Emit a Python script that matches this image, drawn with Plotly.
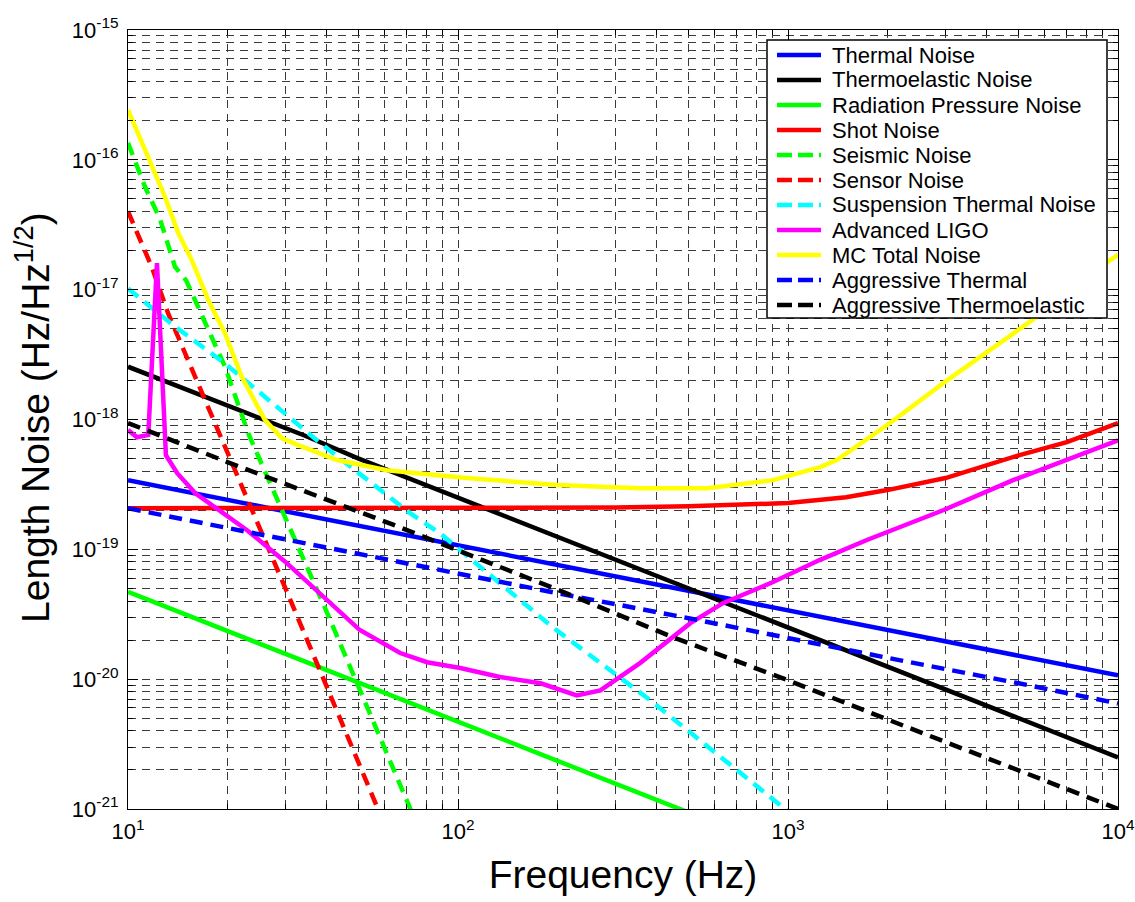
import plotly.graph_objects as go

# ---------------- data ----------------
thermal_f = [10, 20, 50, 100, 200, 500, 1000, 2000, 5000, 10000]
thermal_v = [3.4e-19, 2.4e-19, 1.52e-19, 1.07e-19, 7.6e-20, 4.8e-20, 3.4e-20, 2.4e-20, 1.52e-20, 1.07e-20]

thermoel_f = [10, 20, 34.4, 50, 100, 200, 500, 1000, 2000, 5000, 10000]
thermoel_v = [2.55e-18, 1.27e-18, 7.5e-19, 5.0e-19, 2.5e-19, 1.25e-19, 5.0e-20, 2.5e-20, 1.25e-20, 5.0e-21, 2.5e-21]

radp_f = [10, 20, 50, 100, 200, 470, 1000]
radp_v = [4.7e-20, 2.35e-20, 9.4e-21, 4.7e-21, 2.35e-21, 1.0e-21, 4.7e-22]

shot_f = [10, 100, 200, 300, 500, 700, 1000, 1500, 2000, 3000, 5000, 7000, 10000]
shot_v = [2.07e-19, 2.07e-19, 2.07e-19, 2.1e-19, 2.15e-19, 2.2e-19, 2.27e-19, 2.52e-19, 2.86e-19, 3.54e-19, 5.3e-19, 6.7e-19, 9.4e-19]

seis_f = [10, 11.26, 12.5, 13.88, 15, 17.51, 19.68, 23.15, 30, 40, 50, 60, 72, 80]
seis_v = [1.35e-16, 6.2e-17, 3.5e-17, 1.5e-17, 1.18e-17, 4.9e-18, 2.55e-18, 7.8e-19, 1.75e-19, 3.3e-20, 8.7e-21, 2.9e-21, 1.0e-21, 5.2e-22]

sensor_f = [10, 11.8, 13.25, 16.73, 19.23, 25, 30, 38.2, 45, 50, 57.2, 65]
sensor_v = [4.0e-17, 1.5e-17, 6.5e-18, 1.62e-18, 7.4e-19, 1.52e-19, 5.0e-20, 1.16e-20, 4.3e-21, 2.26e-21, 1.0e-21, 4.6e-22]

susp_f = [10, 13.88, 19.68, 32.8, 38.2, 71.6, 88.2, 194, 382, 980, 1100]
susp_v = [1.02e-17, 5.2e-18, 2.7e-18, 9.3e-19, 6.6e-19, 1.9e-19, 1.33e-19, 2.5e-20, 6.9e-21, 1.0e-21, 8.0e-22]

aligo_f = [10, 10.65, 11.52, 12.24, 13.03, 14.1, 16, 19, 22.9, 30, 40.1, 50.4, 66.8, 80.6, 101.6, 134, 178, 229, 270,
           356, 506, 635, 901, 1251, 1734, 2951, 4808, 10000]
aligo_v = [8.3e-19, 7.3e-19, 7.6e-19, 1.6e-17, 5.3e-19, 3.86e-19, 2.7e-19, 2.0e-19, 1.41e-19, 8.0e-20, 4.07e-20,
           2.39e-20, 1.59e-20, 1.35e-20, 1.22e-20, 1.04e-20, 9.3e-21, 7.5e-21, 8.2e-21, 1.33e-20, 2.7e-20, 3.85e-20,
           5.6e-20, 8.3e-20, 1.18e-19, 2.0e-19, 3.41e-19, 6.9e-19]

mc_f = [10, 10.74, 11.52, 12.94, 14.21, 15.6, 17.51, 19.68, 22.11, 26.02, 29.23, 32.5, 43.0, 60.9, 106, 200, 356, 570,
        901, 1251, 1406, 2037, 3033, 4808, 5522, 7000, 9465, 10000]
mc_v = [2.42e-16, 1.6e-16, 1.06e-16, 5.2e-17, 2.72e-17, 1.69e-17, 8.3e-18, 4.6e-18, 2.13e-18, 9.9e-19, 7.2e-19,
        6.4e-19, 4.87e-19, 4.07e-19, 3.55e-19, 3.13e-19, 2.96e-19, 2.96e-19, 3.41e-19, 4.3e-19, 4.87e-19, 9.4e-19,
        2.0e-18, 4.6e-18, 5.8e-18, 9.0e-18, 1.69e-17, 1.85e-17]

aggth_f = [10, 20, 50, 100, 200, 500, 1000, 2000, 5000, 10000]
aggth_v = [2.07e-19, 1.46e-19, 9.3e-20, 6.5e-20, 4.6e-20, 2.95e-20, 2.07e-20, 1.46e-20, 9.3e-21, 6.5e-21]

aggte_f = [10, 20, 50, 63.6, 100, 200, 449, 1000, 2000, 5000, 10000]
aggte_v = [9.4e-19, 4.7e-19, 1.95e-19, 1.55e-19, 9.8e-20, 4.9e-20, 2.1e-20, 9.8e-21, 4.9e-21, 2.0e-21, 1.0e-21]

x_tick_vals = [10, 100, 1000, 10000]
x_tick_text = ["10<sup>1</sup>", "10<sup>2</sup>", "10<sup>3</sup>", "10<sup>4</sup>"]
y_tick_vals = [1e-21, 1e-20, 1e-19, 1e-18, 1e-17, 1e-16, 1e-15]
y_tick_text = ["10<sup>-21</sup>", "10<sup>-20</sup>", "10<sup>-19</sup>", "10<sup>-18</sup>",
               "10<sup>-17</sup>", "10<sup>-16</sup>", "10<sup>-15</sup>"]

# ---------------- figure ----------------
DASH = "13px,8px"
LW = 4.5
series = [
    ("Thermal Noise", thermal_f, thermal_v, "#0000FF", "solid"),
    ("Thermoelastic Noise", thermoel_f, thermoel_v, "#000000", "solid"),
    ("Radiation Pressure Noise", radp_f, radp_v, "#00FF00", "solid"),
    ("Shot Noise", shot_f, shot_v, "#FF0000", "solid"),
    ("Seismic Noise", seis_f, seis_v, "#00FF00", DASH),
    ("Sensor Noise", sensor_f, sensor_v, "#FF0000", DASH),
    ("Suspension Thermal Noise", susp_f, susp_v, "#00FFFF", DASH),
    ("Advanced LIGO", aligo_f, aligo_v, "#FF00FF", "solid"),
    ("MC Total Noise", mc_f, mc_v, "#FFFF00", "solid"),
    ("Aggressive Thermal", aggth_f, aggth_v, "#0000FF", DASH),
    ("Aggressive Thermoelastic", aggte_f, aggte_v, "#000000", DASH),
]

fig = go.Figure()
for name, fx, fy, col, dash in series:
    fig.add_trace(go.Scatter(x=fx, y=fy, mode="lines", name=name, showlegend=False,
                             line=dict(color=col, width=LW, dash=dash)))

def minor_vals(lo, hi):
    out = []
    for d in range(lo, hi):
        for k in range(2, 10):
            out.append(k * 10.0 ** d)
    return out

GRID = dict(showgrid=True, gridcolor="#3a3a3a", gridwidth=1, griddash="8px,6px")
FONT = "Arial, Liberation Sans, sans-serif"

fig.update_xaxes(type="log", range=[1, 4], tickmode="array", tickvals=x_tick_vals, ticktext=x_tick_text,
                 ticks="inside", ticklen=10, tickcolor="black", showline=True, linecolor="black", linewidth=1,
                 mirror="allticks", tickfont=dict(size=22, family=FONT, color="black"),
                 ticklabeloverflow="allow", automargin=False, ticklabelstandoff=3,
                 title=dict(text="Frequency (Hz)", font=dict(size=39, family=FONT, color="black"), standoff=17),
                 minor=dict(tickmode="array", tickvals=minor_vals(1, 4), ticks="inside", ticklen=5,
                            tickcolor="black", **GRID),
                 **GRID)
fig.update_yaxes(type="log", range=[-21, -15], tickmode="array", tickvals=y_tick_vals, ticktext=y_tick_text,
                 ticks="inside", ticklen=10, tickcolor="black", showline=True, linecolor="black", linewidth=1,
                 mirror="allticks", tickfont=dict(size=22, family=FONT, color="black"),
                 ticklabeloverflow="allow", ticklabelstandoff=4, automargin=False,
                 minor=dict(tickmode="array", tickvals=minor_vals(-21, -15), ticks="inside", ticklen=5,
                            tickcolor="black", **GRID),
                 **GRID)

# plot area in the 1135x902 window: x 128..1118, y 30..809
PX0, PX1, PY0, PY1 = 128.0, 1118.0, 30.0, 809.0
def px(x):
    return (x - PX0) / (PX1 - PX0)
def py(y):
    return (PY1 - y) / (PY1 - PY0)

annotations = [
    dict(text="Length Noise (Hz/Hz<sup>1/2</sup>)", xref="paper", yref="paper", x=px(32), y=py(418),
         xanchor="center", yanchor="middle", textangle=-90, showarrow=False,
         font=dict(size=39, family=FONT, color="black")),
]
shapes = [
    dict(type="rect", xref="paper", yref="paper", x0=px(767), x1=px(1107), y0=py(318), y1=py(40),
         line=dict(color="black", width=1.5), fillcolor="white", layer="above"),
]
ROW0, ROWSTEP = 55.0, 25.0
for i, (name, fx, fy, col, dash) in enumerate(series):
    yy = py(ROW0 + ROWSTEP * i)
    shapes.append(dict(type="line", xref="paper", yref="paper", x0=px(777), x1=px(821), y0=yy, y1=yy,
                       line=dict(color=col, width=LW, dash=("15px,6px" if dash != "solid" else "solid")),
                       layer="above"))
    annotations.append(dict(text=name, xref="paper", yref="paper", x=px(830), y=yy, xanchor="left",
                            yanchor="middle", showarrow=False, font=dict(size=22, family=FONT, color="black")))

fig.update_layout(
    width=1135, height=902,
    margin=dict(l=128, r=17, t=30, b=93, autoexpand=False),
    paper_bgcolor="white", plot_bgcolor="white",
    font=dict(family=FONT, color="black"),
    showlegend=False,
    shapes=shapes,
    annotations=annotations,
)

fig.write_html("out.html", config={"displayModeBar": False},
               post_script="document.body.style.margin='0';document.body.style.padding='0';"
                           "document.body.style.overflow='hidden';")
